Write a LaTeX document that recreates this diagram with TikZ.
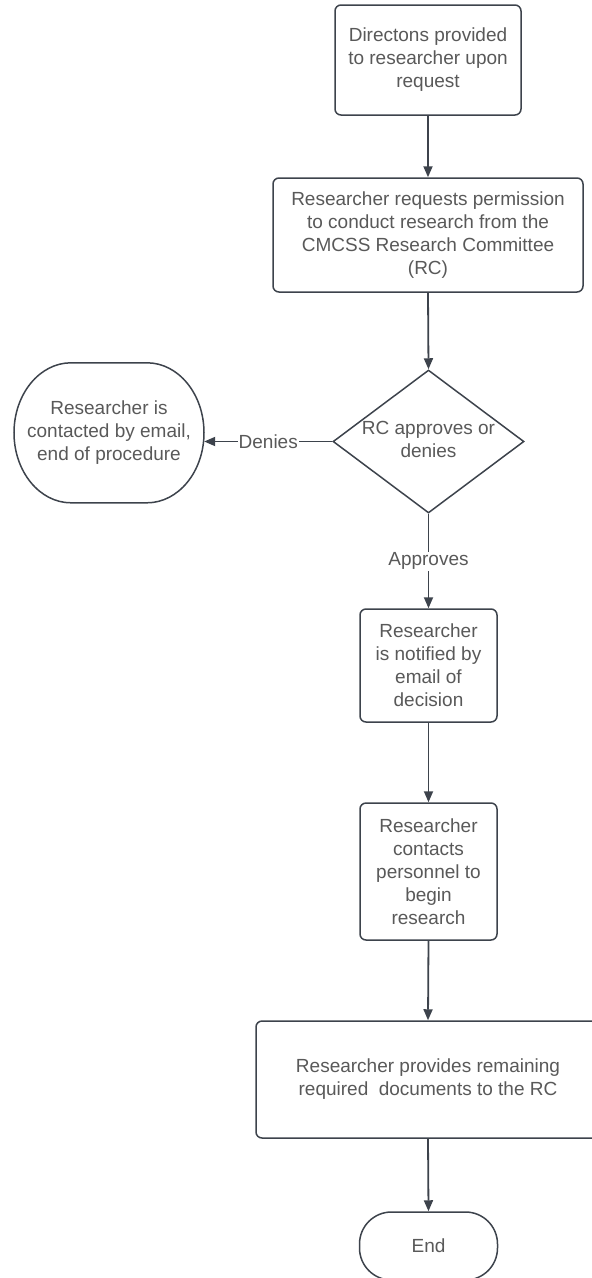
\documentclass[tikz,border=0pt]{standalone}
\usepackage{fontspec}
\setmainfont{Liberation Sans}
\usetikzlibrary{shapes.geometric,arrows.meta}
\definecolor{linec}{HTML}{3D434C}
\definecolor{textc}{HTML}{595959}
\begin{document}
\begin{tikzpicture}[x=1pt,y=-1pt,
  txt/.style={text=textc, align=center, font=\fontsize{19}{23}\selectfont},
  box/.style={txt, draw=linec, line width=1.5pt, rounded corners=6pt, fill=white, inner sep=0pt},
  oval/.style={draw=linec, line width=1.5pt},
  conn/.style={draw=linec, line width=1.8pt, -{Triangle[length=11pt,width=9pt]}},
  lbl/.style={txt, fill=white, inner sep=1pt}]
\useasboundingbox (0,0) rectangle (592,1278);
\node[box, minimum width=186pt, minimum height=110pt] (b1) at (428,60) {Directons provided\\to researcher upon\\request};
\node[box, minimum width=310pt, minimum height=114pt] (b2) at (428,235) {Researcher requests permission\\to conduct research from the\\CMCSS Research Committee\\(RC)};
\node[diamond, draw=linec, line width=1.5pt, fill=white, minimum width=191pt, minimum height=143pt, inner sep=0pt] (dec) at (428.5,441.5) {};
\node[txt] (dect) at (428.5,439) {RC approves or\\denies};
\node[txt, minimum width=190pt, minimum height=140pt, inner sep=0pt] (ell) at (109,433) {Researcher is\\contacted by email,\\end of procedure};
\draw[oval] (ell.north) ++(-38,0) -- ++(76,0)
  arc[start angle=270, end angle=360, x radius=57, y radius=70]
  arc[start angle=0, end angle=90, x radius=57, y radius=70]
  -- ++(-76,0)
  arc[start angle=90, end angle=180, x radius=57, y radius=70]
  arc[start angle=180, end angle=270, x radius=57, y radius=70] -- cycle;
\node[box, minimum width=137pt, minimum height=113pt] (b3) at (428.5,665.5) {Researcher\\is notified by\\email of\\decision};
\node[box, minimum width=137pt, minimum height=137pt] (b4) at (428.5,871.5) {Researcher\\contacts\\personnel to\\begin\\research};
\node[box, minimum width=344pt, minimum height=117pt] (b5) at (428,1079.5) {Researcher provides remaining\\required\ \ documents to the RC};
\node[box, rounded corners=32pt, minimum width=138pt, minimum height=68pt] (end) at (428.5,1246) {End};
\draw[conn] (b1.south) -- (b2.north);
\draw[conn] (b2.south) -- (dec.north);
\draw[conn] (dec.west) -- (dec.west -| ell.east) node[lbl, midway] {Denies};
\draw[conn] (dec.south) -- (b3.north) node[lbl, midway] {Approves};
\draw[conn] (b3.south) -- (b4.north);
\draw[conn] (b4.south) -- (b5.north);
\draw[conn] (b5.south) -- (end.north);
\end{tikzpicture}
\end{document}
